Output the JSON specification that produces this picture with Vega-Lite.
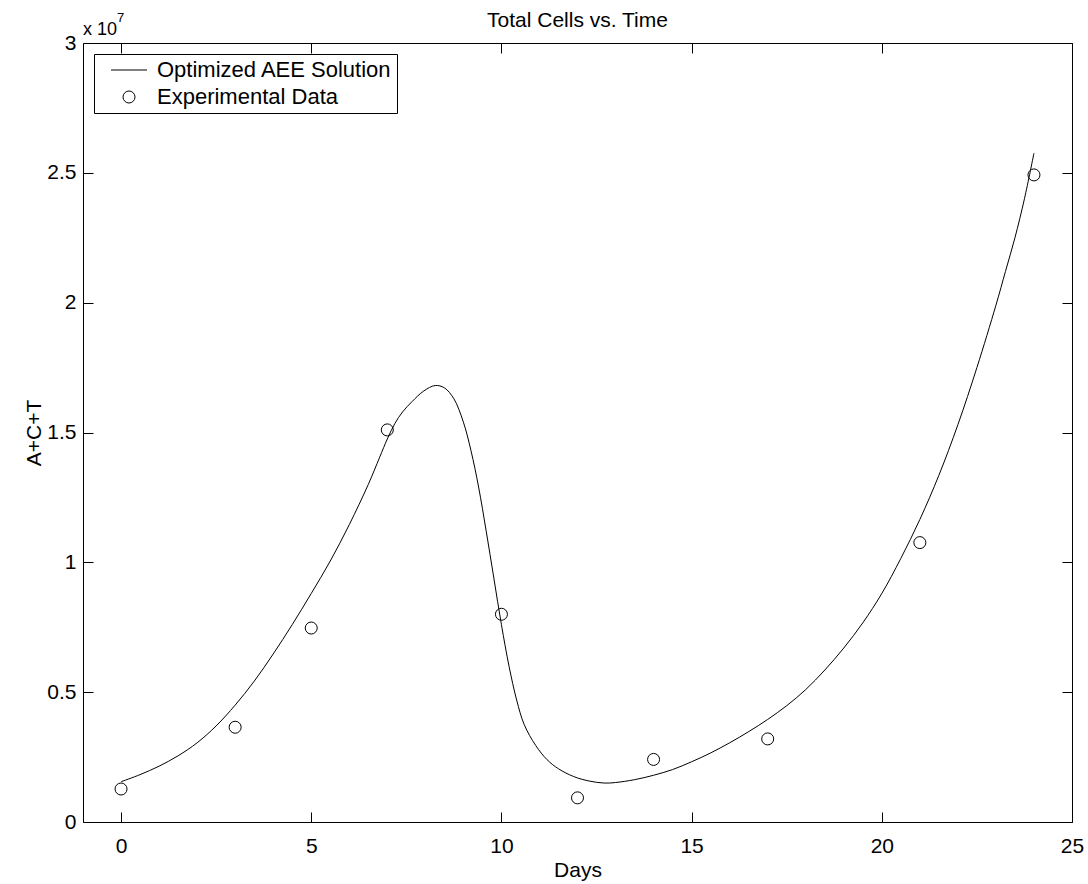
{
  "$schema": "https://vega.github.io/schema/vega-lite/v6.json",
  "width": 989,
  "height": 779,
  "autosize": "none",
  "padding": {"left": 83, "top": 43, "right": 16, "bottom": 62},
  "background": "white",
  "config": {
    "font": "Liberation Sans",
    "view": {"stroke": null},
    "axis": {
      "domainColor": "black",
      "domainWidth": 1,
      "tickColor": "black",
      "tickWidth": 1,
      "tickSize": -10,
      "labelColor": "black",
      "labelFontSize": 21,
      "titleColor": "black",
      "titleFontSize": 21,
      "titleFontWeight": "normal",
      "grid": false,
      "labelFlush": false,
      "labelOverlap": false
    }
  },
  "title": {
    "text": "Total Cells vs. Time",
    "fontSize": 21,
    "fontWeight": "normal",
    "color": "black",
    "offset": 12,
    "dy": 31
  },
  "datasets": {
    "curve": [
      {"day": 0.0, "cells": 1550000},
      {"day": 0.5, "cells": 1825000},
      {"day": 1.0, "cells": 2150000},
      {"day": 1.5, "cells": 2550000},
      {"day": 2.0, "cells": 3050000},
      {"day": 2.5, "cells": 3700000},
      {"day": 3.0, "cells": 4500000},
      {"day": 3.5, "cells": 5420000},
      {"day": 4.0, "cells": 6470000},
      {"day": 4.5, "cells": 7600000},
      {"day": 5.0, "cells": 8800000},
      {"day": 5.5, "cells": 10050000},
      {"day": 6.0, "cells": 11450000},
      {"day": 6.5, "cells": 13000000},
      {"day": 6.8, "cells": 14050000},
      {"day": 7.0, "cells": 14750000},
      {"day": 7.2, "cells": 15350000},
      {"day": 7.4, "cells": 15790000},
      {"day": 7.65, "cells": 16190000},
      {"day": 7.96, "cells": 16600000},
      {"day": 8.26, "cells": 16810000},
      {"day": 8.5, "cells": 16720000},
      {"day": 8.75, "cells": 16300000},
      {"day": 9.0, "cells": 15400000},
      {"day": 9.2, "cells": 14300000},
      {"day": 9.4, "cells": 12900000},
      {"day": 9.6, "cells": 11200000},
      {"day": 9.8, "cells": 9400000},
      {"day": 10.0, "cells": 7600000},
      {"day": 10.2, "cells": 6000000},
      {"day": 10.4, "cells": 4700000},
      {"day": 10.6, "cells": 3750000},
      {"day": 10.9, "cells": 2950000},
      {"day": 11.2, "cells": 2400000},
      {"day": 11.5, "cells": 2050000},
      {"day": 11.9, "cells": 1750000},
      {"day": 12.3, "cells": 1580000},
      {"day": 12.7, "cells": 1500000},
      {"day": 13.0, "cells": 1520000},
      {"day": 13.5, "cells": 1630000},
      {"day": 14.0, "cells": 1800000},
      {"day": 14.5, "cells": 2020000},
      {"day": 15.0, "cells": 2320000},
      {"day": 15.5, "cells": 2660000},
      {"day": 16.0, "cells": 3050000},
      {"day": 16.5, "cells": 3480000},
      {"day": 17.0, "cells": 3950000},
      {"day": 17.5, "cells": 4480000},
      {"day": 18.0, "cells": 5100000},
      {"day": 18.5, "cells": 5850000},
      {"day": 19.0, "cells": 6700000},
      {"day": 19.5, "cells": 7670000},
      {"day": 20.0, "cells": 8800000},
      {"day": 20.5, "cells": 10150000},
      {"day": 21.0, "cells": 11650000},
      {"day": 21.5, "cells": 13350000},
      {"day": 22.0, "cells": 15300000},
      {"day": 22.5, "cells": 17500000},
      {"day": 23.0, "cells": 19900000},
      {"day": 23.25, "cells": 21200000},
      {"day": 23.5, "cells": 22500000},
      {"day": 23.75, "cells": 24000000},
      {"day": 24.0, "cells": 25760000}
    ],
    "observed": [
      {"day": 0, "cells": 1270000, "series": "Experimental Data"},
      {"day": 3, "cells": 3650000, "series": "Experimental Data"},
      {"day": 5, "cells": 7470000, "series": "Experimental Data"},
      {"day": 7, "cells": 15100000, "series": "Experimental Data"},
      {"day": 10, "cells": 8000000, "series": "Experimental Data"},
      {"day": 12, "cells": 930000, "series": "Experimental Data"},
      {"day": 14, "cells": 2410000, "series": "Experimental Data"},
      {"day": 17, "cells": 3200000, "series": "Experimental Data"},
      {"day": 21, "cells": 10760000, "series": "Experimental Data"},
      {"day": 24, "cells": 24920000, "series": "Experimental Data"}
    ],
    "multiplier": [
      {"day": -1, "cells": 30000000, "base": "x 10", "power": "7"}
    ]
  },
  "layer": [
    {
      "data": {"name": "curve"},
      "mark": {"type": "line", "color": "black", "strokeWidth": 1, "interpolate": "catmull-rom"},
      "encoding": {
        "x": {
          "field": "day", "type": "quantitative",
          "scale": {"domain": [-1, 25], "nice": false, "zero": false},
          "axis": {"orient": "bottom", "values": [0, 5, 10, 15, 20, 25], "title": "Days", "labelPadding": 23, "titlePadding": 3}
        },
        "y": {
          "field": "cells", "type": "quantitative",
          "scale": {"domain": [0, 30000000], "nice": false, "zero": true},
          "axis": {
            "orient": "left",
            "values": [0, 5000000, 10000000, 15000000, 20000000, 25000000, 30000000],
            "labelExpr": "format(datum.value / 10000000, '~g')",
            "title": "A+C+T",
            "labelPadding": 17,
            "titlePadding": 2
          }
        }
      }
    },
    {
      "data": {"name": "observed"},
      "mark": {"type": "point", "filled": false, "color": "black", "strokeWidth": 1, "size": 144, "opacity": 1},
      "encoding": {
        "x": {
          "field": "day", "type": "quantitative",
          "axis": {"orient": "top", "values": [0, 5, 10, 15, 20, 25], "labels": false, "title": null}
        },
        "y": {
          "field": "cells", "type": "quantitative",
          "axis": {"orient": "right", "values": [0, 5000000, 10000000, 15000000, 20000000, 25000000, 30000000], "labels": false, "title": null}
        },
        "shape": {
          "field": "series", "type": "nominal",
          "scale": {"domain": ["Optimized AEE Solution", "Experimental Data"], "range": ["M-3,0H3", "circle"]},
          "legend": {
            "title": null,
            "orient": "top-left",
            "offset": 11,
            "strokeColor": "black",
            "fillColor": "white",
            "padding": 5,
            "labelFontSize": 22,
            "labelColor": "black",
            "labelLimit": 500,
            "symbolSize": 144,
            "symbolStrokeColor": "black",
            "symbolStrokeWidth": 1,
            "symbolOffset": 19,
            "rowPadding": 5,
            "labelOffset": 17
          }
        }
      }
    },
    {
      "data": {"name": "multiplier"},
      "mark": {"type": "text", "align": "left", "baseline": "alphabetic", "fontSize": 18, "color": "black", "dy": -8},
      "encoding": {
        "x": {"field": "day", "type": "quantitative", "axis": null},
        "y": {"field": "cells", "type": "quantitative", "axis": null},
        "text": {"field": "base"}
      }
    },
    {
      "data": {"name": "multiplier"},
      "mark": {"type": "text", "align": "left", "baseline": "alphabetic", "fontSize": 13, "color": "black", "dx": 34, "dy": -21},
      "encoding": {
        "x": {"field": "day", "type": "quantitative", "axis": null},
        "y": {"field": "cells", "type": "quantitative", "axis": null},
        "text": {"field": "power"}
      }
    }
  ],
  "resolve": {"axis": {"x": "independent", "y": "independent"}}
}
